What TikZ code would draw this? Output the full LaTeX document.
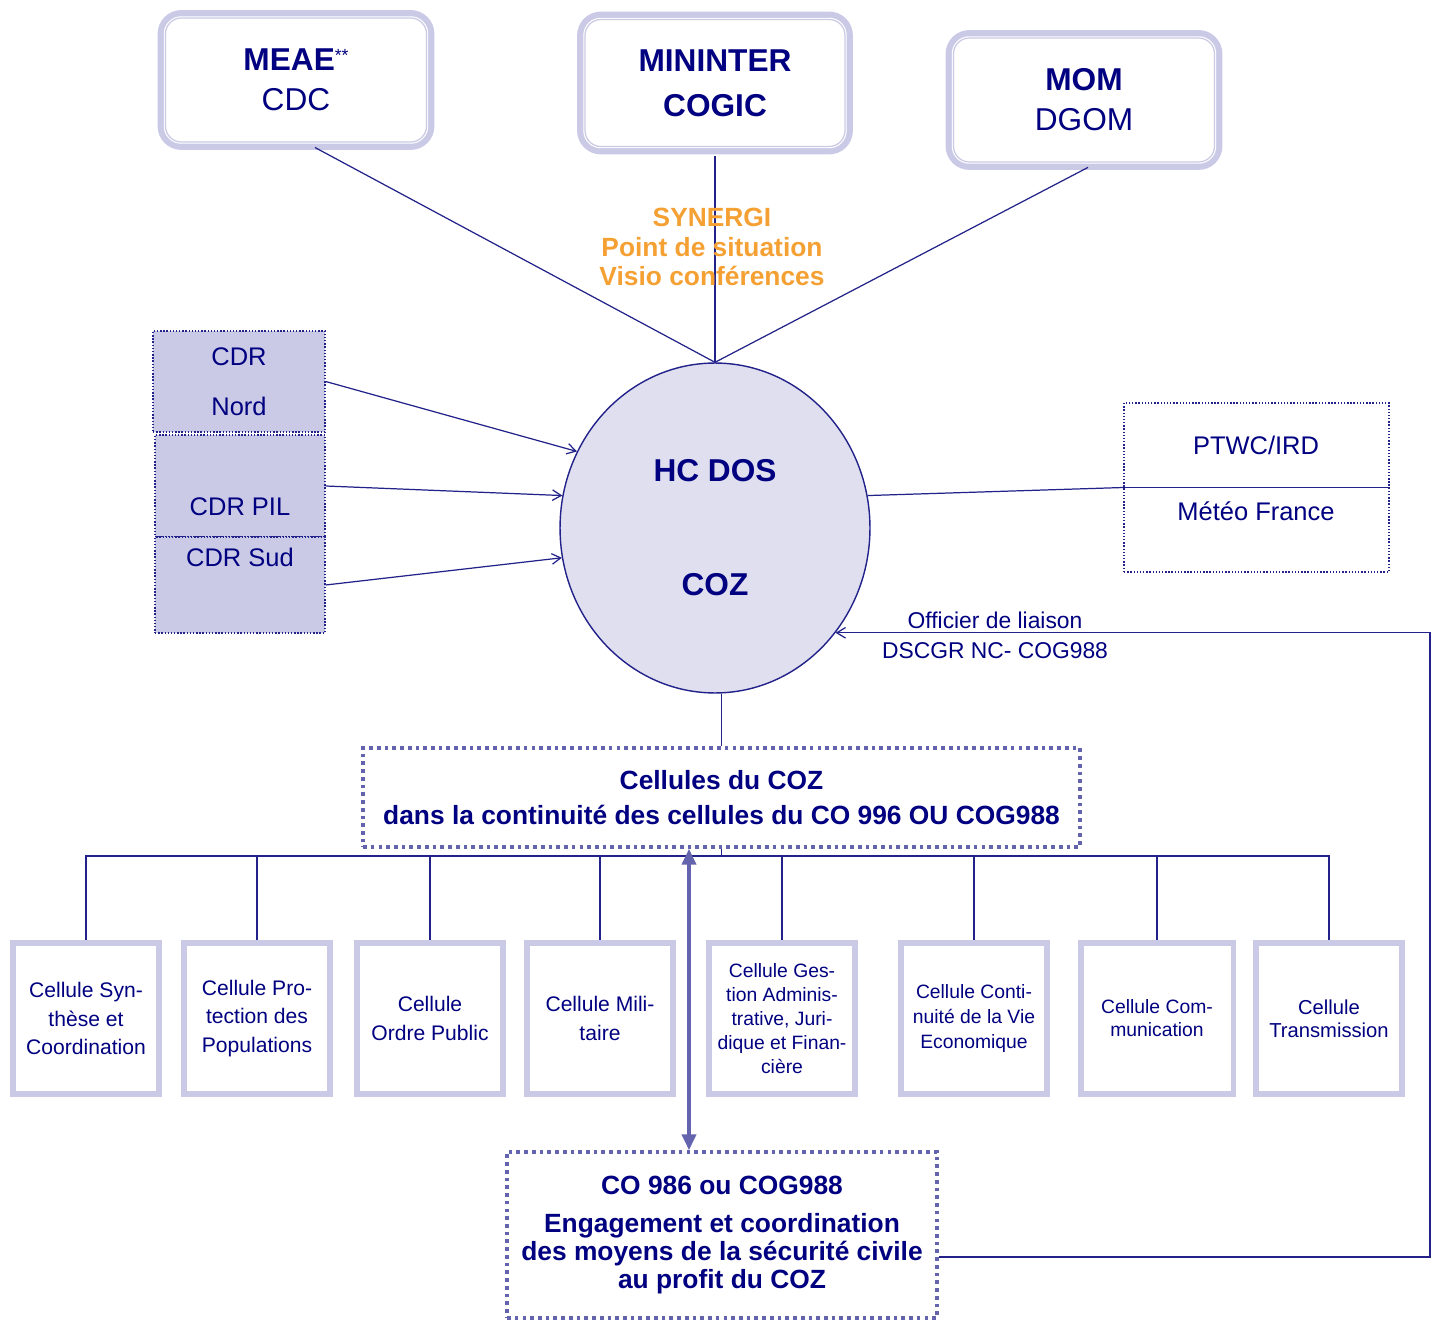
\documentclass[tikz,border=0pt]{standalone}
\usepackage{fontspec}
\setmainfont{Liberation Sans}
\usetikzlibrary{shapes.geometric}
\usetikzlibrary{arrows.meta}
\definecolor{navy}{HTML}{000080}
\definecolor{linecol}{HTML}{22228A}
\definecolor{lav}{HTML}{CACAE6}
\definecolor{pale}{HTML}{DFDFEF}
\definecolor{dotcol}{HTML}{6464AE}
\definecolor{orangetxt}{HTML}{F5A033}
\tikzset{
  minbox/.style={rounded corners=9pt, fill=white, preaction={draw=lav, line width=9pt}, draw=white, line width=2pt, postaction={draw=lav, line width=0.7pt}, text=navy, align=center, inner sep=0pt, font=\fontsize{18}{22.7}\selectfont},
  hub/.style={ellipse, draw=linecol, line width=0.8pt, fill=pale, minimum width=6.2cm, minimum height=6.6cm, inner sep=0pt, text=navy, align=center, font=\bfseries\fontsize{18}{22}\selectfont},
  link/.style={draw=linecol, line width=0.7pt},
  feed/.style={link, -{Straight Barb[length=5pt,width=6pt]}},
  cdrtext/.style={text=navy, align=center, font=\fontsize{14.5}{28.3}\selectfont},
  cdrbox/.style={cdrtext, draw=linecol, densely dotted, line width=0.8pt, fill=lav, inner sep=0pt},
  infobox/.style={draw=linecol, densely dotted, line width=0.8pt, inner sep=0pt},
  orangetext/.style={text=orangetxt, align=center, font=\bfseries\fontsize{15}{16.7}\selectfont},
  smalltext/.style={text=navy, align=center, font=\fontsize{13}{17}\selectfont},
  dotbox/.style={draw=dotcol, line width=2.1pt, dash pattern=on 2.1pt off 2.3pt, text=navy, align=center, inner sep=0pt},
  cellbox/.style={draw=lav, line width=3.4pt, fill=white, minimum width=2.92cm, minimum height=3.02cm, inner sep=0pt, text=navy, align=center, font=\fontsize{12}{16}\selectfont},
  duplex/.style={draw=dotcol, line width=2pt, {Triangle[length=9pt,width=8pt]}-{Triangle[length=9pt,width=8pt]}}
}
\begin{document}
\begin{tikzpicture}[x=0.02cm, y=-0.02cm]
\useasboundingbox (0,0) rectangle (1437,1321);
\node (meae) [minbox, minimum width=5.22cm, minimum height=2.48cm] at (296,80) {\textbf{MEAE}\raisebox{5pt}{\fontsize{10}{10}\selectfont **}\\CDC};
\node (mininter) [minbox, minimum width=5.2cm, minimum height=2.54cm] at (715,83) {\textbf{MININTER}\\[3pt]\textbf{COGIC}};
\node (mom) [minbox, minimum width=5.22cm, minimum height=2.48cm] at (1084,100) {\textbf{MOM}\\DGOM};
\node (coz) [hub] at (715,528) {HC DOS\\[43pt]COZ};
\draw[link, shorten <=4.5pt] ([xshift=0.24cm]meae.south) -- (coz.north);
\draw[link, shorten <=4.5pt] (mininter.south) -- (coz.north);
\draw[link, shorten <=4.5pt] ([xshift=0.22cm]mom.south) -- (coz.north);
\node (synergi) [orangetext] at (712,247) {SYNERGI\\Point de situation\\Visio conférences};
\node (cdrnord) [cdrbox, minimum width=3.44cm, minimum height=2.02cm] at (239,381.5) {CDR\\Nord};
\node (cdrpil) [cdrbox, minimum width=3.4cm, minimum height=2.04cm] at (240,486) {};
\node (cdrsud) [cdrbox, minimum width=3.4cm, minimum height=1.92cm] at (240,585) {};
\node (cdrpiltext) [cdrtext] at (240,507) {CDR PIL};
\node (cdrsudtext) [cdrtext] at (240,557) {CDR Sud};
\draw[feed] (cdrnord.east) -- (coz.151);
\draw[feed] (cdrpil.east) -- (coz.168);
\draw[feed] (cdrsud.east) -- (coz.191);
\node (ptwc) [infobox, minimum width=5.3cm, minimum height=3.38cm] at (1256.5,487.5) {};
\node (ptwctext) [cdrtext] at (1256,445) {PTWC/IRD};
\node (meteotext) [cdrtext] at (1256,511) {Météo France};
\draw[link] (ptwc.west) -- (ptwc.east);
\draw[link] (coz.12) -- (ptwc.west);
\node (cellules) [dotbox, minimum width=14.34cm, minimum height=1.98cm, font=\bfseries\fontsize{15}{20.4}\selectfont] at (721.5,797.5) {Cellules du COZ\\dans la continuité des cellules du CO 996 OU COG988};
\draw[link] (cellules.north |- coz.south) -- (cellules.north);
\coordinate (bus) at (721.5,856);
\draw[link] (cellules.south) -- (bus);
\node (synthese) [cellbox] at (86,1018.5) {Cellule Syn-\\thèse et\\Coordination};
\node (protection) [cellbox] at (257,1018.5) {Cellule Pro-\\tection des\\Populations};
\node (ordre) [cellbox] at (430,1018.5) {Cellule\\Ordre Public};
\node (militaire) [cellbox] at (600,1018.5) {Cellule Mili-\\taire};
\node (gestion) [cellbox, font=\fontsize{11}{13.6}\selectfont] at (782,1018.5) {Cellule Ges-\\tion Adminis-\\trative, Juri-\\dique et Finan-\\cière};
\node (continuite) [cellbox, font=\fontsize{11}{14.2}\selectfont] at (974,1018.5) {Cellule Conti-\\nuité de la Vie\\Economique};
\node (communication) [cellbox, font=\fontsize{11}{13}\selectfont, minimum width=3.06cm] at (1157,1018.5) {Cellule Com-\\munication};
\node (transmission) [cellbox, font=\fontsize{11.5}{13}\selectfont] at (1329,1018.5) {Cellule\\Transmission};
\draw[link] (bus) -| (synthese.north);
\draw[link] (bus) -| (protection.north);
\draw[link] (bus) -| (ordre.north);
\draw[link] (bus) -| (militaire.north);
\draw[link] (bus) -| (gestion.north);
\draw[link] (bus) -| (continuite.north);
\draw[link] (bus) -| (communication.north);
\draw[link] (bus) -| (transmission.north);
\node (co986) [dotbox, minimum width=8.6cm, minimum height=3.32cm, font=\bfseries\fontsize{15}{16}\selectfont] at (722,1235) {CO 986 ou COG988\\[6pt]Engagement et coordination\\des moyens de la sécurité civile\\au profit du COZ};
\coordinate (relay) at (689,1000);
\draw[duplex] (cellules.south -| relay) -- (co986.north -| relay);
\coordinate (turn) at (1430,1257);
\draw[feed] (co986.east |- turn) -- (turn) |- (coz.-41.5);
\node (liaison) [smalltext] at (995,635) {Officier de liaison\\DSCGR NC- COG988};
\end{tikzpicture}
\end{document}
